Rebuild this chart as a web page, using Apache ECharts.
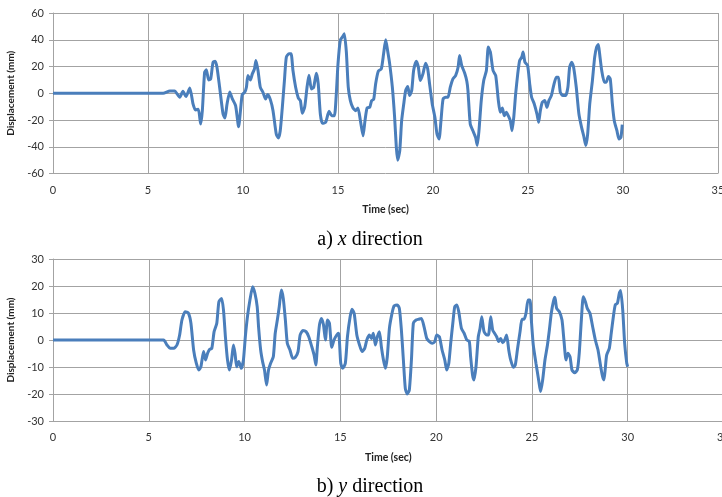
<!DOCTYPE html>
<html>
<head>
<meta charset="utf-8">
<script src="https://cdn.jsdelivr.net/npm/echarts@6/dist/echarts.min.js"></script>
<style>
  html, body { margin: 0; padding: 0; background: #fff; }
  #chart { width: 722px; height: 497px; }
</style>
</head>
<body>
<div id="chart"></div>
<script>
// Displacement history, x direction (time in s, displacement in mm)
const timeX = [0, 5.8, 6.15, 6.4, 6.67, 6.84, 7.0, 7.2, 7.37, 7.5, 7.65, 7.77, 7.86, 7.98, 8.07, 8.19, 8.3, 8.42, 8.53, 8.63, 8.77, 8.95, 9.05, 9.16, 9.3, 9.44, 9.61, 9.77, 9.88, 9.96, 10.09, 10.18, 10.26, 10.39, 10.49, 10.6, 10.68, 10.79, 10.91, 11.05, 11.19, 11.3, 11.44, 11.58, 11.75, 11.86, 11.96, 12.07, 12.18, 12.28, 12.42, 12.53, 12.63, 12.77, 12.91, 13.02, 13.12, 13.25, 13.37, 13.47, 13.6, 13.72, 13.86, 13.96, 14.07, 14.18, 14.35, 14.53, 14.67, 14.81, 14.9, 15.0, 15.12, 15.23, 15.33, 15.44, 15.54, 15.65, 15.79, 15.93, 16.05, 16.18, 16.32, 16.42, 16.53, 16.67, 16.77, 16.88, 16.98, 17.12, 17.28, 17.4, 17.51, 17.61, 17.72, 17.86, 17.98, 18.07, 18.14, 18.25, 18.35, 18.46, 18.56, 18.67, 18.77, 18.88, 18.98, 19.12, 19.23, 19.33, 19.47, 19.61, 19.72, 19.82, 19.96, 20.1, 20.21, 20.32, 20.42, 20.53, 20.67, 20.79, 20.91, 21.05, 21.19, 21.32, 21.4, 21.51, 21.67, 21.78, 21.84, 21.96, 22.1, 22.24, 22.33, 22.42, 22.54, 22.67, 22.81, 22.91, 23.02, 23.16, 23.3, 23.44, 23.54, 23.65, 23.75, 23.86, 23.96, 24.07, 24.16, 24.25, 24.35, 24.46, 24.56, 24.67, 24.74, 24.84, 24.98, 25.09, 25.19, 25.33, 25.47, 25.56, 25.65, 25.75, 25.88, 26.0, 26.1, 26.23, 26.35, 26.49, 26.6, 26.7, 26.84, 26.98, 27.1, 27.19, 27.3, 27.4, 27.54, 27.68, 27.82, 27.93, 28.04, 28.14, 28.25, 28.39, 28.51, 28.61, 28.7, 28.77, 28.88, 29.02, 29.12, 29.23, 29.33, 29.44, 29.54, 29.68, 29.79, 29.89, 29.96];
const dispX = [0, 0, 1.75, 1.75, -3, 1.5, -2.5, 4, -8, -12.5, -12, -23, -13, 15.75, 17.5, 10, 10.75, 23, 24, 19.5, 4.5, -15.5, -18.5, -8, 1, -4.25, -9.25, -25, -11, -1, 0.75, 4.5, 13.25, 10, 14.5, 18, 24.5, 17, 4.5, 0.75, -4.25, -1, -4.75, -13, -30.5, -33.5, -28, -10.5, 9.5, 27, 29.5, 29.5, 17, 4.5, -3.5, -5.5, -15, -10, 4.5, 13.5, 3.25, 4.5, 15, 7, -15.5, -22.5, -21.75, -13.5, -16.75, -16.75, -3, 22, 39.5, 42, 44.5, 30.75, 4.5, -5.5, -11, -13, -11, -20.5, -31.75, -20.5, -11, -10.5, -5.5, -4.5, 7, 16.5, 18.25, 29.5, 40, 32, 22, 4.5, -18, -40.5, -50, -43, -20.5, -8, 2, 5, -1.75, 2, 17, 24, 19.5, 9.5, 14.5, 22.5, 18.25, 7, -8, -18, -30.5, -34.25, -20.5, -4.25, -3, -3, 4.5, 10.75, 13.25, 19.5, 28.25, 20.75, 15, 9, 2, -23, -28, -33, -39, -28, -5.5, 9.5, 17, 34.5, 30.75, 17, 13.25, -5.5, -14.25, -11, -16.75, -14.25, -16.75, -20.5, -28, -18, -0.5, 14.5, 24.5, 27, 30.75, 23.25, 20.75, 7, -3, -8, -15.5, -21.75, -13, -6.75, -5.5, -10.5, -5.5, -1.75, 5.75, 12, 12, 0.75, -1.75, -1.75, 4.5, 19.5, 23.25, 19.5, 4.5, -15.5, -25.5, -31.75, -39, -30.5, -8, 9.5, 27, 34.5, 36.5, 29.5, 17, 8.25, 8.25, 12.5, 10.75, -8, -20.5, -28, -34.25, -33, -23.5];

// Displacement history, y direction
const timeY = [0, 5.77, 5.95, 6.12, 6.3, 6.47, 6.61, 6.73, 6.9, 7.07, 7.2, 7.34, 7.48, 7.61, 7.72, 7.86, 7.96, 8.07, 8.17, 8.29, 8.41, 8.55, 8.66, 8.8, 8.9, 9.0, 9.11, 9.21, 9.32, 9.42, 9.5, 9.59, 9.7, 9.83, 9.94, 10.04, 10.15, 10.28, 10.42, 10.54, 10.66, 10.73, 10.84, 10.94, 11.04, 11.15, 11.25, 11.36, 11.5, 11.6, 11.71, 11.81, 11.92, 12.02, 12.13, 12.23, 12.37, 12.51, 12.65, 12.79, 12.9, 13.04, 13.21, 13.35, 13.51, 13.63, 13.72, 13.8, 13.91, 14.01, 14.12, 14.22, 14.33, 14.43, 14.55, 14.67, 14.81, 14.91, 15.02, 15.12, 15.26, 15.37, 15.51, 15.61, 15.72, 15.86, 16.0, 16.13, 16.27, 16.38, 16.52, 16.62, 16.72, 16.83, 16.93, 17.04, 17.14, 17.25, 17.35, 17.45, 17.56, 17.68, 17.8, 17.97, 18.08, 18.18, 18.29, 18.39, 18.49, 18.6, 18.71, 18.81, 18.95, 19.09, 19.23, 19.37, 19.51, 19.65, 19.79, 19.93, 20.03, 20.17, 20.31, 20.45, 20.55, 20.66, 20.76, 20.87, 20.97, 21.08, 21.18, 21.32, 21.46, 21.6, 21.73, 21.8, 21.9, 21.97, 22.08, 22.2, 22.29, 22.38, 22.5, 22.64, 22.73, 22.85, 22.95, 23.05, 23.16, 23.26, 23.37, 23.47, 23.58, 23.68, 23.79, 23.89, 24.03, 24.13, 24.24, 24.38, 24.48, 24.59, 24.69, 24.8, 24.9, 24.97, 25.07, 25.21, 25.35, 25.45, 25.56, 25.68, 25.81, 25.91, 26.01, 26.12, 26.2, 26.29, 26.43, 26.57, 26.67, 26.78, 26.88, 26.99, 27.09, 27.23, 27.37, 27.47, 27.58, 27.68, 27.79, 27.89, 28.03, 28.17, 28.31, 28.45, 28.59, 28.69, 28.76, 28.83, 28.9, 29.04, 29.14, 29.25, 29.35, 29.46, 29.56, 29.63, 29.74, 29.84, 29.95, 30.0];
const dispY = [0, 0, -1.85, -3.1, -3.1, -1.85, 1.85, 7.4, 10.5, 9.9, 6.2, -3.7, -8.6, -11.1, -9.9, -4.3, -7.4, -4.9, -3.5, -3.1, 3.1, 6.2, 14.2, 15.4, 11.1, 1.2, -7.4, -11.1, -7.4, -1.85, -4.9, -9.9, -8, -10.5, -7.4, 1.2, 8.6, 14.8, 19.75, 17.3, 12.3, 4.9, -3.7, -8, -11.1, -16.7, -11.1, -8.6, -6.2, 2.5, 7.4, 12.3, 18.5, 15.4, 7.4, -1.2, -3.7, -6.8, -6.4, -4.3, 1.85, 3.5, 3.1, 1.2, -2.5, -5.6, -9.3, -2.5, 5.6, 8, 5.6, 0, 7.4, 6.2, -2.7, 0, 1.85, 2.5, -8.6, -10.5, -8.6, 1.2, 8.6, 11.4, 9.9, 1.85, -1.85, -4.3, -3.1, 0, 1.85, 0.6, 2.5, -1.85, 1.2, 3.1, -2.5, -7.4, -10.5, -6.2, 4.3, 9.3, 12.6, 13, 11.7, 4.3, -7.4, -17.9, -20, -18.5, -7.4, 6.2, 7.4, 7.7, 8, 4.9, 0.6, -0.6, -1.2, -0.6, 1.85, 1.2, -3.7, -7.4, -11.1, -8.6, -1.2, 6.2, 12.3, 13, 10.5, 4.3, 2.5, 0, -0.5, -6.2, -13, -14.8, -9.9, 1.2, 4.3, 8.6, 3.1, 1.85, 1.85, 8.6, 3.7, 2.5, 1.2, -0.6, 0.6, -1, 0, 1.85, -3.7, -7.4, -10.1, -9.3, -3.7, 3.1, 7.7, 7.7, 9.9, 14.8, 14.8, 7.4, -1.85, -8.6, -14.8, -19.1, -14.8, -7.4, -1.85, 3.7, 9.9, 14.2, 15.8, 11.7, 10.5, 7.4, 0, -7.4, -4.9, -6.2, -11.1, -12.1, -11.1, -4.9, 7.4, 16, 14.2, 11.7, 9.9, 4.9, 0, -3.7, -9.9, -13.6, -14.8, -10.5, -5.6, -3.1, 2.5, 8.6, 13, 13.6, 17.3, 18.3, 11.1, -1.2, -8.6, -9.9];

const xTicks = { min: 0, max: 35, interval: 5 };
const yTicksX = { min: -60, max: 60, interval: 20 };
const yTicksY = { min: -30, max: 30, interval: 10 };

const axisFont = 'Lato, "Open Sans", sans-serif';
const gridColor = '#a3a3a3';
const lineColor = '#4a7ebb';

function pairs(ts, vs) { return ts.map((t, i) => [t, vs[i]]); }

function xAxisOpt(gridIndex, nameGap) {
  return {
    type: 'value', gridIndex,
    min: xTicks.min, max: xTicks.max, interval: xTicks.interval,
    name: 'Time (sec)', nameLocation: 'middle', nameGap,
    nameTextStyle: { fontFamily: axisFont, fontWeight: 'bold', fontSize: 10.5, color: '#222' },
    axisLine: { show: true, lineStyle: { color: gridColor, width: 1 } },
    axisTick: { show: true, length: 4, lineStyle: { color: gridColor } },
    axisLabel: { fontFamily: axisFont, fontSize: 11, color: '#333', margin: 11 },
    splitLine: { show: true, lineStyle: { color: gridColor, width: 1 } }
  };
}

function yAxisOpt(gridIndex, ticks) {
  return {
    type: 'value', gridIndex,
    min: ticks.min, max: ticks.max, interval: ticks.interval,
    name: 'Displacement (mm)', nameLocation: 'middle', nameGap: 35, nameRotate: 90,
    nameTextStyle: { fontFamily: axisFont, fontWeight: 'bold', fontSize: 10, color: '#222' },
    axisLine: { show: true, lineStyle: { color: gridColor, width: 1 } },
    axisTick: { show: true, length: 4, lineStyle: { color: gridColor } },
    axisLabel: { fontFamily: axisFont, fontSize: 11, color: '#333', margin: 9 },
    splitLine: { show: true, lineStyle: { color: gridColor, width: 1 } }
  };
}

const captionRich = {
  n: { fontFamily: '"Liberation Serif", serif', fontWeight: 'normal', fontSize: 20, color: '#000' },
  i: { fontFamily: '"Liberation Serif", serif', fontWeight: 'normal', fontStyle: 'italic', fontSize: 20, color: '#000' }
};

const chart = echarts.init(document.getElementById('chart'), null, { renderer: 'canvas' });
chart.setOption({
  animation: false,
  backgroundColor: '#ffffff',
  grid: [
    { left: 53, right: 4, top: 13, height: 160.5, outerBoundsMode: 'none', containLabel: false },
    { left: 53, right: -1.5, top: 259, height: 162, outerBoundsMode: 'none', containLabel: false }
  ],
  xAxis: [xAxisOpt(0, 31), xAxisOpt(1, 31)],
  yAxis: [yAxisOpt(0, yTicksX), yAxisOpt(1, yTicksY)],
  title: [
    {
      text: '{n|a) }{i|x}{n| direction}',
      left: 365, top: 225, textAlign: 'center',
      textStyle: { fontWeight: 'normal', rich: captionRich }
    },
    {
      text: '{n|b) }{i|y}{n| direction}',
      left: 365, top: 472, textAlign: 'center',
      textStyle: { fontWeight: 'normal', rich: captionRich }
    }
  ],
  series: [
    {
      type: 'line', xAxisIndex: 0, yAxisIndex: 0,
      data: pairs(timeX, dispX), showSymbol: false, smooth: 0.2,
      lineStyle: { color: lineColor, width: 3 }
    },
    {
      type: 'line', xAxisIndex: 1, yAxisIndex: 1,
      data: pairs(timeY, dispY), showSymbol: false, smooth: 0.2,
      lineStyle: { color: lineColor, width: 3 }
    }
  ]
});
</script>
</body>
</html>
